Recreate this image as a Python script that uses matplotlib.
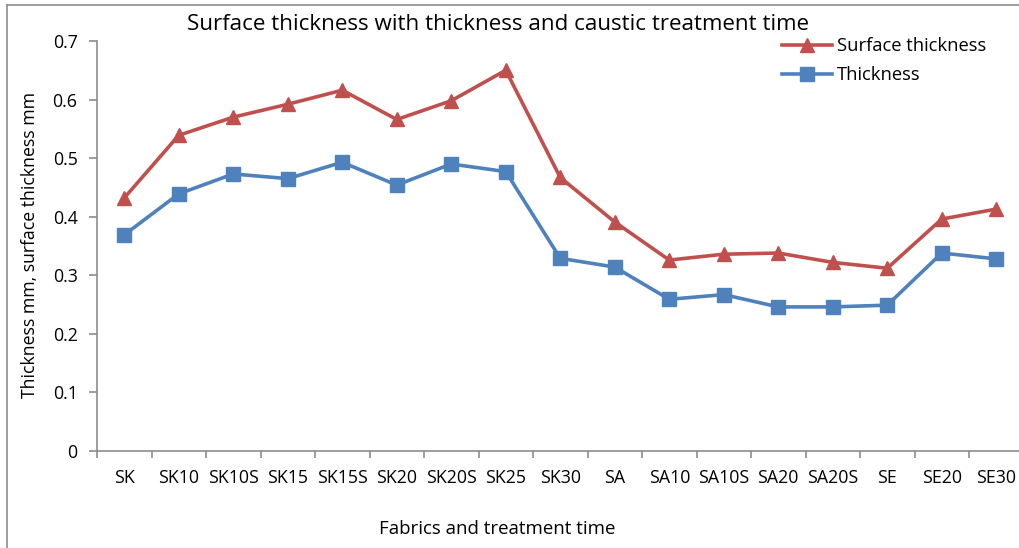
import matplotlib
matplotlib.use("Agg")
import matplotlib.pyplot as plt
from matplotlib.lines import Line2D
from matplotlib.ticker import FixedLocator, NullFormatter

plt.rcParams['font.family'] = ['Open Sans', 'DejaVu Sans']

fabrics = ["SK", "SK10", "SK10S", "SK15", "SK15S", "SK20", "SK20S", "SK25", "SK30",
           "SA", "SA10", "SA10S", "SA20", "SA20S", "SE", "SE20", "SE30"]
surface_thickness = [0.432, 0.539, 0.570, 0.592, 0.616, 0.566, 0.598, 0.650, 0.467,
                     0.391, 0.326, 0.336, 0.338, 0.322, 0.312, 0.396, 0.413]
thickness = [0.369, 0.439, 0.473, 0.465, 0.493, 0.454, 0.490, 0.477, 0.329,
             0.314, 0.259, 0.267, 0.246, 0.246, 0.249, 0.338, 0.328]
y_ticks = [0, 0.1, 0.2, 0.3, 0.4, 0.5, 0.6, 0.7]
y_tick_labels = ["0", "0.1", "0.2", "0.3", "0.4", "0.5", "0.6", "0.7"]

W, H = 1019, 548
fig = plt.figure(figsize=(W / 100, H / 100), dpi=100)

# chart-area border
fig.add_artist(Line2D([7 / W, 7 / W], [0, 1 - 5 / H], color="#8c8c8c", lw=1.2))
fig.add_artist(Line2D([7 / W, 1], [1 - 5 / H, 1 - 5 / H], color="#8c8c8c", lw=1.2))

ax = fig.add_axes([97 / W, 97 / H, 926.5 / W, 410 / H])
x = list(range(len(fabrics)))

red = "#C0504D"
blue = "#4F81BD"
ax.plot(x, surface_thickness, color=red, lw=2.6, marker="^", markersize=10,
        label="Surface thickness", zorder=3)
ax.plot(x, thickness, color=blue, lw=2.6, marker="s", markersize=9.5,
        label="Thickness", zorder=3)

ax.set_xlim(-0.5, len(fabrics) - 0.5)
ax.set_ylim(0, 0.7)
ax.set_yticks(y_ticks, y_tick_labels)

ax.set_xticks(x, fabrics)
ax.xaxis.set_minor_locator(FixedLocator([i - 0.5 for i in range(len(fabrics) + 1)]))
ax.xaxis.set_minor_formatter(NullFormatter())
ax.tick_params(axis="x", which="major", length=0, pad=13, labelsize=12.8)
ax.tick_params(axis="x", which="minor", length=5, width=1.2, color="#8c8c8c")
ax.tick_params(axis="y", length=6, width=1.2, color="#8c8c8c", labelsize=12.8, pad=8)

for side in ("top", "right"):
    ax.spines[side].set_visible(False)
for side in ("left", "bottom"):
    ax.spines[side].set_color("#8c8c8c")
    ax.spines[side].set_linewidth(1.2)

fig.text(498 / W, 1 - 24 / H, "Surface thickness with thickness and caustic treatment time",
         ha="center", va="center", fontsize=16.1)
fig.text(497 / W, 1 - 529 / H, "Fabrics and treatment time",
         ha="center", va="center", fontsize=13.4)
fig.text(30 / W, 1 - 245 / H, "Thickness mm, surface thickness mm",
         ha="center", va="center", rotation=90, fontsize=12.7)

ax.legend(loc="upper left", bbox_to_anchor=(773 / W, 1 - 28 / H),
          bbox_transform=fig.transFigure, frameon=False, fontsize=13.2,
          handlelength=2.7, handletextpad=0.3, labelspacing=0.6, borderpad=0)

fig.savefig("out.png", dpi=100)
